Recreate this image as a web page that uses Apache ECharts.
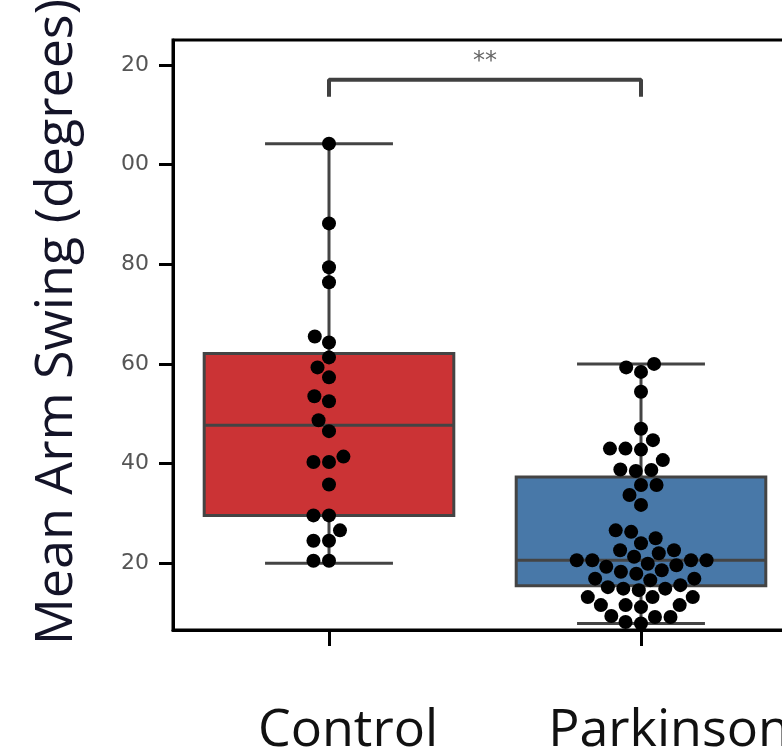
<!DOCTYPE html>
<html><head><meta charset="utf-8">
<script src="https://cdn.jsdelivr.net/npm/echarts@6/dist/echarts.min.js"></script>
<style>html,body{margin:0;padding:0;background:#fff}#c{width:782px;height:747px}</style>
</head><body><div id="c"></div>
<script>
// ---- data ----
const categories = ['Control', 'Parkinson'];
const controlValues = [20.5, 20.5, 24.5, 24.5, 26.6, 29.6, 29.6, 35.8, 40.3, 40.3, 41.4, 46.5, 48.7,
  52.5, 53.5, 57.3, 59.3, 61.3, 64.3, 65.5, 76.4, 79.4, 88.2, 104.2];
const parkinsonValues = [7.9, 8.2, 9.2, 9.2, 9.4, 11.2, 11.6, 11.6, 11.6, 13.2, 13.2, 13.2, 14.6, 14.9,
  14.9, 15.2, 15.6, 16.6, 16.9, 16.9, 17.9, 18.3, 18.6, 19.3, 19.6, 19.9, 20.6, 20.6, 20.6, 20.6, 21.3,
  22.0, 22.6, 22.6, 24.0, 25.0, 26.3, 26.6, 31.7, 33.7, 35.7, 35.7, 38.5, 38.7, 38.8, 40.7, 42.8, 43.0,
  43.0, 44.7, 47.0, 54.4, 58.4, 59.3, 60.0];
// [lower whisker, Q1, median, Q3, upper whisker]
const controlBox = [20.0, 29.6, 47.7, 62.1, 104.2];
const parkinsonBox = [7.9, 15.5, 20.6, 37.3, 60.0];
const yTickValues = [20, 40, 60, 80, 100, 120];
const yTickLabels = ['20', '40', '60', '80', '00', '20'];
const bracketTop = 117.0;
const bracketFoot = 113.6;
const significance = '**';
const yTitle = 'Mean Arm Swing (degrees)';

// ---- styles ----
const boxColors = ['#cb3335', '#4878a8'];
const edge = '#444444';
const FONT = 'Open Sans';

const chart = echarts.init(document.getElementById('c'), null, {renderer: 'canvas'});

function boxRender(params, api) {
  const x = api.value(0);
  const v = [1, 2, 3, 4, 5].map(i => api.value(i));
  const band = api.size([1, 0])[0];
  const bw = band * 0.8, cw = band * 0.41;
  const p = v.map(val => api.coord([x, val]));
  const cx = p[0][0];
  const ls = {stroke: edge, lineWidth: 3};
  return {
    type: 'group',
    children: [
      {type: 'line', shape: {x1: cx, y1: p[4][1], x2: cx, y2: p[0][1]}, style: ls},
      {type: 'rect', shape: {x: cx - bw / 2, y: p[3][1], width: bw, height: p[1][1] - p[3][1]},
        style: {fill: boxColors[params.dataIndex], stroke: edge, lineWidth: 3}},
      {type: 'line', shape: {x1: cx - bw / 2, y1: p[2][1], x2: cx + bw / 2, y2: p[2][1]}, style: ls},
      {type: 'line', shape: {x1: cx - cw / 2, y1: p[0][1], x2: cx + cw / 2, y2: p[0][1]}, style: ls},
      {type: 'line', shape: {x1: cx - cw / 2, y1: p[4][1], x2: cx + cw / 2, y2: p[4][1]}, style: ls}
    ]
  };
}

const option = {
  animation: false,
  backgroundColor: '#fff',
  grid: {left: 173, top: 40, width: 624, height: 590, show: true, borderColor: '#000', borderWidth: 3,
    backgroundColor: 'transparent', containLabel: false, outerBoundsMode: 'none'},
  xAxis: {
    type: 'value', min: -0.5, max: 1.5,
    splitLine: {show: false},
    axisLine: {show: true, onZero: false, lineStyle: {color: '#000', width: 3}},
    axisTick: {show: true, customValues: [0, 1], length: 16, lineStyle: {color: '#000', width: 3}},
    axisLabel: {
      customValues: [0, 1], margin: 75,
      formatter: v => '{c' + Math.round(v) + '|' + categories[Math.round(v)] + '}',
      rich: {
        c0: {fontFamily: FONT, fontSize: 52, color: '#111', padding: [0, 0, 0, 38]},
        c1: {fontFamily: FONT, fontSize: 52, color: '#111', padding: [0, 0, 0, 56]}
      }
    }
  },
  yAxis: {
    type: 'value', min: 6.6, max: 125,
    splitLine: {show: false},
    axisLine: {show: true, onZero: false, lineStyle: {color: '#000', width: 3}},
    axisTick: {show: true, customValues: yTickValues, length: 14, lineStyle: {color: '#000', width: 3}},
    axisLabel: {
      customValues: yTickValues, margin: 24,
      formatter: v => yTickLabels[yTickValues.indexOf(Math.round(v))],
      fontFamily: 'DejaVu Sans', fontSize: 22, color: '#555'
    },
    name: yTitle, nameLocation: 'middle', nameGap: 90, nameRotate: 90,
    nameTextStyle: {fontFamily: FONT, fontSize: 52, color: '#141428', padding: [0, 0, 0, 26]}
  },
  series: [
    {
      type: 'custom', renderItem: boxRender, z: 2,
      data: [[0].concat(controlBox), [1].concat(parkinsonBox)]
    },
    {
      type: 'line', z: 3, symbol: 'none',
      lineStyle: {color: '#404040', width: 4},
      data: [[0, bracketFoot], [0, bracketTop], [1, bracketTop], [1, bracketFoot]],
      markLine: {
        silent: true, symbol: ['none', 'none'], animation: false,
        lineStyle: {color: 'rgba(0,0,0,0)', width: 1, type: 'solid'},
        label: {show: true, position: 'middle', formatter: significance, distance: 6,
          fontFamily: 'DejaVu Sans', fontSize: 24, color: '#666'},
        data: [[{coord: [0, bracketTop]}, {coord: [1, bracketTop]}]]
      }
    },
    {type: 'scatter', z: 5, symbolSize: 14, itemStyle: {color: '#000', opacity: 1}, data: []}
  ]
};
chart.setOption(option);

function swarm(values, xi, d) {
  const ref = {xAxisIndex: 0, yAxisIndex: 0};
  const cx = chart.convertToPixel(ref, [xi, values[0]])[0];
  const pts = values.map(v => ({v: v, py: chart.convertToPixel(ref, [xi, v])[1]}));
  pts.sort((a, b) => a.v - b.v);
  const placed = [];
  for (const p of pts) {
    const nb = placed.filter(q => Math.abs(q.py - p.py) < d);
    const cands = [cx];
    let leftFirst = true;
    for (const q of nb) {
      const dy = p.py - q.py;
      const dx = Math.sqrt(Math.max(d * d - dy * dy, 0)) * 1.05;
      if (leftFirst) cands.push(q.px - dx, q.px + dx); else cands.push(q.px + dx, q.px - dx);
      leftFirst = !leftFirst;
    }
    const order = cands.map((c, i) => ({c: c, i: i}))
      .sort((a, b) => (Math.abs(a.c - cx) - Math.abs(b.c - cx)) || (a.i - b.i));
    let chosen = cx;
    for (const o of order) {
      if (nb.every(q => (o.c - q.px) ** 2 + (p.py - q.py) ** 2 >= d * d - 1e-6)) { chosen = o.c; break; }
    }
    p.px = chosen;
    placed.push(p);
  }
  return placed.map(p => [chart.convertFromPixel(ref, [p.px, p.py])[0], p.v]);
}

const pts = swarm(controlValues, 0, 14.8).concat(swarm(parkinsonValues, 1, 14.8));
chart.setOption({series: [{}, {}, {data: pts}]});
</script></body></html>
